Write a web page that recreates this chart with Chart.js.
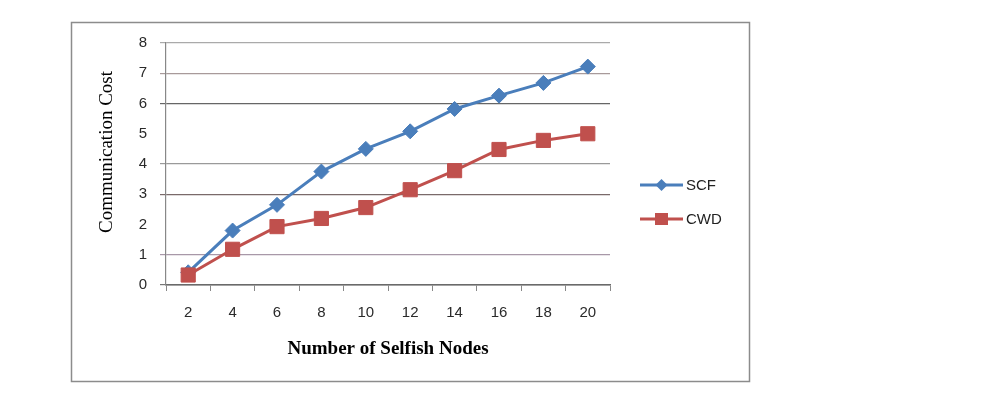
<!DOCTYPE html>
<html>
<head>
<meta charset="utf-8">
<script src="https://cdn.jsdelivr.net/npm/chart.js@4.4.1/dist/chart.umd.min.js"></script>
<style>
  body { margin: 0; background: #fff; }
  #wrap { width: 985px; height: 396px; }
</style>
</head>
<body>
<div id="wrap"><canvas id="myChart" width="985" height="396"></canvas></div>
<script>
// dati
const nodes = ['2', '4', '6', '8', '10', '12', '14', '16', '18', '20']
const scfCost = [0.42, 1.8, 2.65, 3.75, 4.5, 5.08, 5.82, 6.26, 6.68, 7.22]
const cwdCost = [0.33, 1.18, 1.93, 2.2, 2.56, 3.15, 3.78, 4.48, 4.78, 5.0]
const yTicks = [0, 1, 2, 3, 4, 5, 6, 7, 8]

const blue = '#4a7ebb'
const red = '#c0504d'

// colori delle griglie (alcune righe quasi invisibili nell'originale)
const gridColors = {
  0: '#777777', 1: '#a898a8', 2: 'rgba(0,0,0,0)', 3: '#7a6a6a', 4: '#9a9a9a',
  5: 'rgba(0,0,0,0)', 6: '#666666', 7: '#a89a9a', 8: '#aaaaaa',
}

// cornice, titolo asse Y e legenda
const framePlugin = {
  id: 'frameLegend',
  beforeDraw: function (chart) {
    const ctx = chart.ctx
    ctx.save()
    ctx.fillStyle = '#fff'
    ctx.fillRect(0, 0, chart.width, chart.height)
    ctx.strokeStyle = '#8c8c8c'
    ctx.lineWidth = 1.5
    ctx.strokeRect(71.5, 22.5, 678, 359)
    ctx.restore()
  },
  afterDraw: function (chart) {
    const ctx = chart.ctx
    ctx.save()
    // titolo asse Y
    ctx.translate(107, 152)
    ctx.rotate(-Math.PI / 2)
    ctx.font = '19px "Liberation Serif"'
    ctx.fillStyle = '#000'
    ctx.textAlign = 'center'
    ctx.textBaseline = 'middle'
    ctx.fillText('Communication Cost', 0, 0)
    ctx.restore()

    // legenda
    chart.data.datasets.forEach(function (ds, i) {
      const y = 185 + i * 34
      ctx.save()
      ctx.strokeStyle = ds.borderColor
      ctx.fillStyle = ds.borderColor
      ctx.lineWidth = 3
      ctx.beginPath()
      ctx.moveTo(640, y)
      ctx.lineTo(683, y)
      ctx.stroke()
      const cx = 661.5
      ctx.beginPath()
      if (ds.pointStyle === 'rectRot') {
        ctx.moveTo(cx, y - 6)
        ctx.lineTo(cx + 6, y)
        ctx.lineTo(cx, y + 6)
        ctx.lineTo(cx - 6, y)
        ctx.closePath()
      } else {
        ctx.rect(cx - 6.5, y - 6, 13, 12)
      }
      ctx.fill()
      ctx.font = '15px "Liberation Sans"'
      ctx.fillStyle = '#222'
      ctx.textAlign = 'left'
      ctx.textBaseline = 'middle'
      ctx.fillText(ds.label, 686, y + 1)
      ctx.restore()
    })
  },
}

Chart.register(framePlugin)

let ctx = document.getElementById('myChart').getContext('2d')

let myChart = new Chart(ctx, {
  type: 'line',
  data: {
    labels: nodes,
    datasets: [
      {
        label: 'SCF',
        data: scfCost,
        borderColor: blue,
        backgroundColor: blue,
        borderWidth: 3,
        pointStyle: 'rectRot',
        pointRadius: 7.5,
        pointBorderWidth: 1,
        tension: 0,
        order: 1,
      },
      {
        label: 'CWD',
        data: cwdCost,
        borderColor: red,
        backgroundColor: red,
        borderWidth: 3,
        pointStyle: 'rect',
        pointRadius: 10,
        pointBorderWidth: 1,
        tension: 0,
        order: 0,
      },
    ],
  },
  options: {
    responsive: false,
    animation: false,
    events: [],
    layout: {
      padding: { left: 80, top: 43, right: 375, bottom: 30 },
    },
    plugins: {
      legend: { display: false },
      tooltip: { enabled: false },
    },
    scales: {
      x: {
        offset: true,
        afterFit: function (scale) { scale.height = 81 },
        grid: {
          offset: true,
          drawOnChartArea: false,
          drawTicks: true,
          tickLength: 6,
          color: '#888',
        },
        border: { color: '#6a6a6a', width: 1.6 },
        ticks: {
          padding: 13,
          color: '#2a2a2a',
          font: { family: '"Liberation Sans"', size: 15 },
          maxRotation: 0,
        },
        title: {
          display: true,
          text: 'Number of Selfish Nodes',
          color: '#000',
          font: { family: '"Liberation Serif"', size: 19, weight: 'bold' },
          padding: { top: 4, bottom: 6 },
        },
      },
      y: {
        min: yTicks[0],
        max: yTicks[yTicks.length - 1],
        afterFit: function (scale) { scale.width = 86 },
        afterBuildTicks: function (scale) {
          scale.ticks = yTicks.map(function (v) { return { value: v } })
        },
        grid: {
          tickLength: 6,
          lineWidth: 1.2,
          color: function (c) {
            return gridColors[c.tick.value] || '#999'
          },
        },
        border: { color: '#888', width: 1.2 },
        ticks: {
          padding: 13,
          color: '#2a2a2a',
          font: { family: '"Liberation Sans"', size: 15 },
        },
      },
    },
  },
})
</script>
</body>
</html>
